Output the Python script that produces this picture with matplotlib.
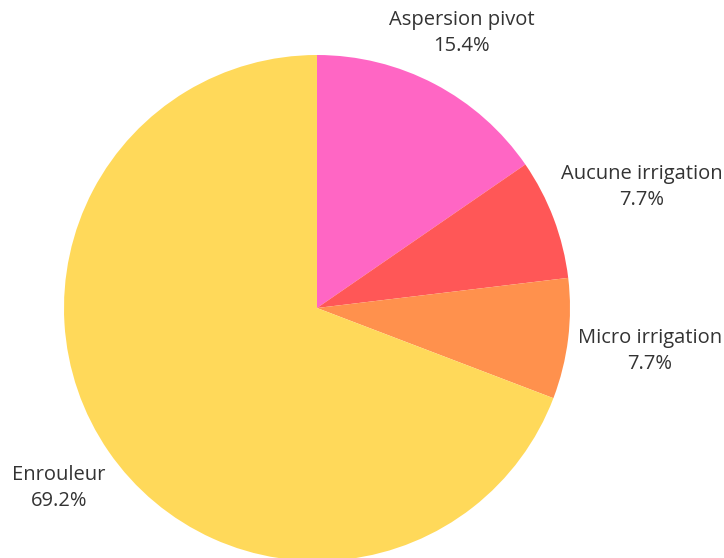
import matplotlib.pyplot as plt

plt.rcParams['font.family'] = ['Open Sans', 'DejaVu Sans']

categories = ['Aspersion pivot', 'Aucune irrigation', 'Micro irrigation', 'Enrouleur']
shares = [15.4, 7.7, 7.7, 69.2]
colors = ['#FF66C4', '#FF5757', '#FF914D', '#FFD95A']

# where each label sits, in pie units (radius = 1)
label_pos = [(0.573, 1.087), (1.285, 0.478), (1.316, -0.170), (-1.020, -0.711)]

fig = plt.figure(figsize=(7.24, 5.58), dpi=100)
ax = fig.add_axes([64 / 724, -3 / 558, 506 / 724, 506 / 558])

ax.pie(shares, colors=colors, startangle=90, counterclock=False,
       radius=1, wedgeprops=dict(linewidth=0))

for name, val, (x, y) in zip(categories, shares, label_pos):
    ax.text(x, y, f'{name}\n{val:.1f}%', ha='center', va='center',
            fontsize=14.5, color='#333333', linespacing=1.45)

ax.set_xlim(-1, 1)
ax.set_ylim(-1, 1)
ax.set_aspect('equal')
ax.axis('off')

fig.savefig('out.png', dpi=100)
